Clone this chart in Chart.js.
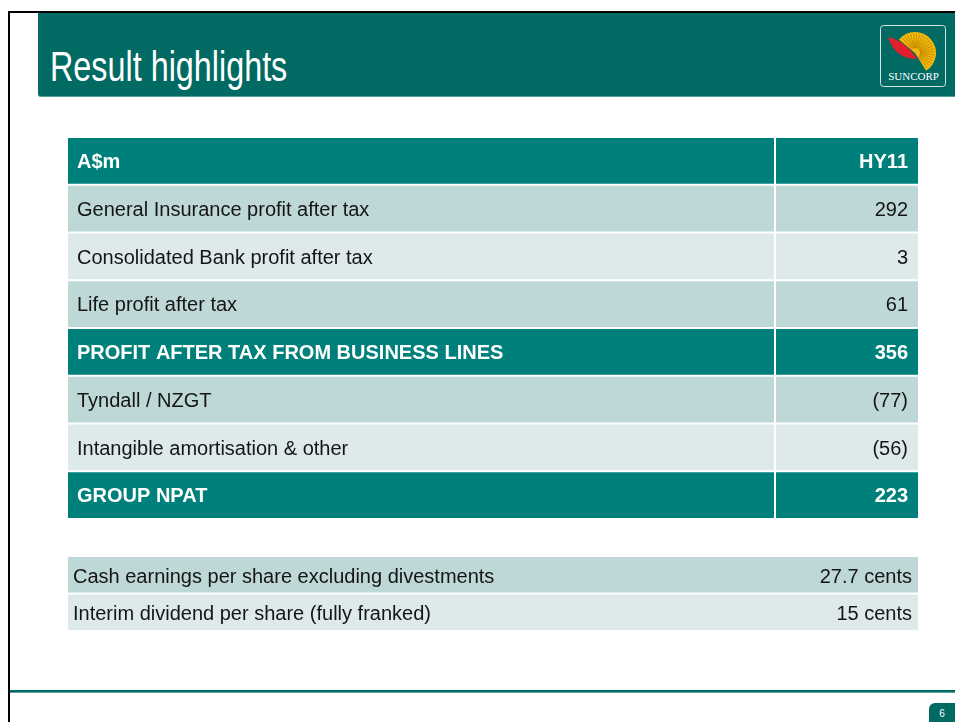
<!DOCTYPE html>
<html><head><meta charset="utf-8">
<script src="https://cdn.jsdelivr.net/npm/chart.js@4.4.1/dist/chart.umd.min.js"></script>
<style>
html,body{margin:0;padding:0;background:#fff;width:955px;height:722px;overflow:hidden;}
#slide{position:relative;width:955px;height:722px;background:#fff;}
.abs{position:absolute;}
#topline{left:8px;top:11px;width:947px;height:2px;background:#000;}
#leftline{left:8px;top:11px;width:2px;height:711px;background:#000;}
#banner{left:38px;top:13px;width:917px;height:83px;background:#006A63;border-bottom:1px solid #4E9C96;border-bottom-left-radius:3px;}
#title{left:50px;top:46px;font-family:"Liberation Sans",Arial,sans-serif;font-size:42px;line-height:42px;color:#fff;white-space:nowrap;transform:scaleX(0.77);transform-origin:0 0;}
#logo{left:880px;top:25px;width:66px;height:62px;}
#bottomline{left:10px;top:690px;width:945px;height:2px;background:#006A63;border-bottom:1px solid #5FA39D;}
#pagebox{left:929px;top:703px;width:26px;height:19px;background:#006A63;border-top-left-radius:6px;color:#fff;font-family:"Liberation Sans",sans-serif;font-size:10px;line-height:21px;text-align:center;}
#t1{left:68px;top:137px;width:850px;height:382px;}
#t2{left:68px;top:556px;width:850px;height:75px;}
</style></head>
<body><div id="slide">
<div class="abs" id="topline"></div>
<div class="abs" id="leftline"></div>
<div class="abs" id="banner"></div>
<div class="abs" id="title">Result highlights</div>
<svg class="abs" id="logo" width="66" height="62" viewBox="0 0 66 62">
  <rect x="0.5" y="0.5" width="65" height="61" rx="3" fill="none" stroke="#d7e6e4" stroke-width="1"/>
  <g id="fan"></g>
  <path d="M 8 12 Q 26 16 37 34 Q 15 34 8 12 Z" fill="#E31E2D"/>
  <text x="33.5" y="55" text-anchor="middle" font-family="Liberation Serif, serif" font-size="11" fill="#fff">SUNCORP</text>
</svg>
<div class="abs" id="bottomline"></div>
<div class="abs" id="pagebox">6</div>
<div class="abs" id="t1"><canvas id="c1" width="850" height="382"></canvas></div>
<div class="abs" id="t2"><canvas id="c2" width="850" height="75"></canvas></div>
</div>
<script>
// ---- data ----
const headerLabel = "A$m";
const periodLabel = "HY11";
const rowLabels = [
  "General Insurance profit after tax",
  "Consolidated Bank profit after tax",
  "Life profit after tax",
  "PROFIT AFTER TAX FROM BUSINESS LINES",
  "Tyndall / NZGT",
  "Intangible amortisation & other",
  "GROUP NPAT"
];
const rowKinds = ["item","item","item","subtotal","item","item","total"];
const hy11 = [292, 3, 61, 356, -77, -56, 223];
const epsLabels = [
  "Cash earnings per share excluding divestments",
  "Interim dividend per share (fully franked)"
];
const epsValues = [27.7, 15];
const epsUnit = "cents";

// ---- logo fan ----
(function(){
  const g = document.getElementById('fan');
  const cx = 35, cy = 28, r = 21;
  const a0 = -140 * Math.PI/180, a1 = 58 * Math.PI/180;
  const p = (a, rr) => [cx + rr*Math.cos(a), cy + rr*Math.sin(a)];
  const s = p(a0, r), e = p(a1, r);
  let html = `<path d="M ${cx} ${cy} L ${s[0]} ${s[1]} A ${r} ${r} 0 1 1 ${e[0]} ${e[1]} Z" fill="#F4B90A"/>`;
  for (let a = -130; a <= 54; a += 9) {
    const q0 = p(a*Math.PI/180, 5), q1 = p(a*Math.PI/180, r - 1.5);
    html += `<line x1="${q0[0]}" y1="${q0[1]}" x2="${q1[0]}" y2="${q1[1]}" stroke="#B07A00" stroke-width="0.7"/>`;
  }
  g.innerHTML = html;
})();

// ---- styles / layout ----
const TEAL = "#00807A", DARK_ROW = "#BDD8D7", LIGHT_ROW = "#DDEAE9";
const TXT = "#151515";
const FONT = '"Liberation Sans", Arial, sans-serif';
const TABLE_MAX = 850, COL1 = [0, 706], COL2 = [708, 850];

const fmt = v => v < 0 ? `(${-v})` : `${v}`;

const mainLabels = [headerLabel, ...rowLabels];
const mainValues = [periodLabel, ...hy11.map(fmt)];
const mainKinds = ["header", ...rowKinds];
const fills = [];
let alt = 0;
mainKinds.forEach(k => {
  if (k === "item") { fills.push(alt % 2 === 0 ? DARK_ROW : LIGHT_ROW); alt++; }
  else { fills.push(TEAL); alt = 0; }
});
const isBold = mainKinds.map(k => k !== "item");

function textPlugin(labels, values, boldFlags, padL, padR, dy) {
  return {
    id: 'cellText',
    afterDatasetsDraw(chart) {
      const ctx = chart.ctx;
      const m0 = chart.getDatasetMeta(0).data;
      const mLast = chart.getDatasetMeta(chart.data.datasets.length - 1).data;
      ctx.save();
      labels.forEach((lab, i) => {
        const b0 = m0[i], b1 = mLast[i];
        const bold = boldFlags[i];
        ctx.font = (bold ? 'bold ' : '') + '20px ' + FONT;
        ctx.fillStyle = bold ? '#ffffff' : TXT;
        ctx.textBaseline = 'alphabetic';
        const y = b0.y + dy;
        ctx.textAlign = 'left';
        ctx.fillText(lab, Math.min(b0.x, b0.base) + padL, y);
        ctx.textAlign = 'right';
        ctx.fillText(values[i], Math.max(b1.x, b1.base) - padR, y);
      });
      ctx.restore();
    }
  };
}

const baseOpts = {
  indexAxis: 'y',
  responsive: false,
  animation: false,
  events: [],
  layout: { padding: 0 },
  scales: {
    x: { type: 'linear', min: 0, max: TABLE_MAX, display: false },
    y: { type: 'category', display: false, offset: true }
  },
  plugins: { legend: { display: false }, tooltip: { enabled: false } }
};

new Chart(document.getElementById('c1'), {
  type: 'bar',
  data: {
    labels: mainLabels,
    datasets: [
      { data: mainLabels.map(() => COL1), backgroundColor: fills, grouped: false,
        barPercentage: 0.953, categoryPercentage: 1, borderWidth: 0 },
      { data: mainLabels.map(() => COL2), backgroundColor: fills, grouped: false,
        barPercentage: 0.953, categoryPercentage: 1, borderWidth: 0 }
    ]
  },
  options: baseOpts,
  plugins: [textPlugin(mainLabels, mainValues, isBold, 9, 10, 7.3)]
});

new Chart(document.getElementById('c2'), {
  type: 'bar',
  data: {
    labels: epsLabels,
    datasets: [
      { data: epsLabels.map(() => [0, TABLE_MAX]),
        backgroundColor: epsLabels.map((_, i) => i % 2 === 0 ? DARK_ROW : LIGHT_ROW),
        grouped: false, barPercentage: 0.944, categoryPercentage: 1, borderWidth: 0 }
    ]
  },
  options: baseOpts,
  plugins: [textPlugin(epsLabels, epsValues.map(v => `${v} ${epsUnit}`), epsLabels.map(() => false), 5, 6, 7.8)]
});
</script>
</body></html>
